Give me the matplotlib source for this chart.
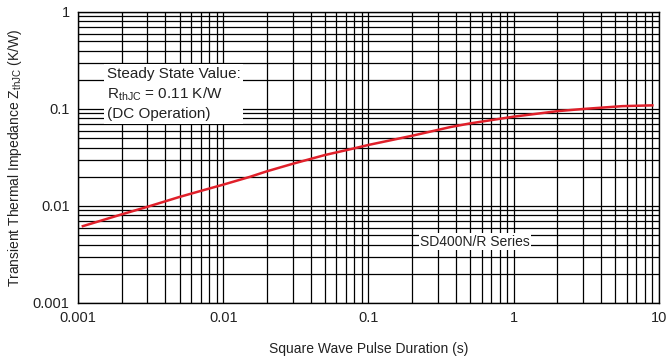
import numpy as np
import matplotlib.pyplot as plt

plt.rcParams['font.family'] = ['Liberation Sans', 'DejaVu Sans']

# Curve (pulse duration s, Zth K/W)
pulse_s = [0.00108, 0.002, 0.003, 0.005, 0.007, 0.01, 0.0153, 0.02, 0.03, 0.05, 0.078,
           0.1, 0.2, 0.364, 0.5, 1.0, 2.0, 3.0, 5.6, 9.0]
zth = [0.0062, 0.0082, 0.0098, 0.0124, 0.0143, 0.0166, 0.020, 0.0228, 0.0272, 0.0335, 0.039,
       0.0426, 0.053, 0.065, 0.071, 0.0834, 0.095, 0.100, 0.107, 0.109]

x_ticks = [0.001, 0.01, 0.1, 1, 10]
x_labels = ['0.001', '0.01', '0.1', '1', '10']
y_ticks = [0.001, 0.01, 0.1, 1]
y_labels = ['0.001', '0.01', '0.1', '1']

fig = plt.figure(figsize=(6.69, 3.59), dpi=100)
ax = fig.add_axes([0.1166, 0.156, 0.8684, 0.8106])

ax.set_xscale('log')
ax.set_yscale('log')
ax.set_xlim(0.001, 10)
ax.set_ylim(0.001, 1)

ax.grid(True, which='major', color='black', linewidth=0.9)
ax.grid(True, which='minor', color='black', linewidth=0.9)
ax.set_axisbelow(True)

ax.plot(pulse_s, zth, color='#e0202a', linewidth=1.8, zorder=3)

ax.set_xticks(x_ticks)
ax.set_xticklabels(x_labels)
ax.set_yticks(y_ticks)
ax.set_yticklabels(y_labels)
ax.tick_params(which='both', length=0, labelsize=10.5, pad=6, colors='#222222')
for s in ax.spines.values():
    s.set_color('black')
    s.set_linewidth(1)

ax.set_xlabel('Square Wave Pulse Duration (s)', fontsize=10, color='#222222', labelpad=12)
ax.set_ylabel('Transient Thermal Impedance Z$_{\\mathregular{thJC}}$ (K/W)', fontsize=10,
              color='#222222', labelpad=6)

ax.text(0.00158, 0.143, 'Steady State Value:\nR$_{\\mathregular{thJC}}$ = 0.11 K/W\n(DC Operation)',
        fontsize=11, color='#222222', va='center', ha='left', linespacing=1.35,
        bbox=dict(facecolor='white', edgecolor='none', pad=2), zorder=4)

ax.text(0.226, 0.0043, 'SD400N/R Series', fontsize=10, color='#222222',
        va='center', ha='left',
        bbox=dict(facecolor='white', edgecolor='none', pad=1), zorder=4)

fig.savefig('out.png', dpi=100)
